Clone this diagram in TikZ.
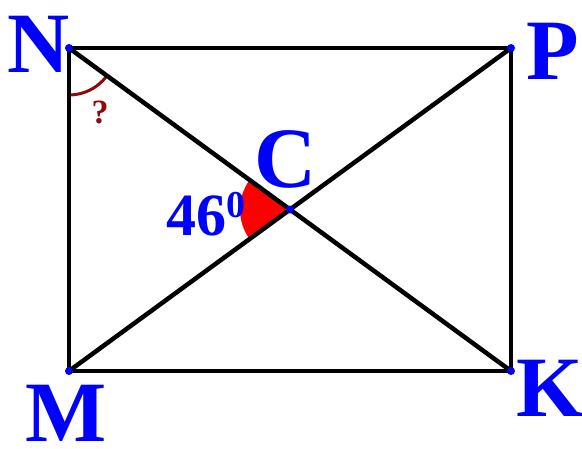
\documentclass[tikz,border=0pt]{standalone}
\usepackage{fontspec}
\setmainfont{Liberation Serif}
\definecolor{lblue}{RGB}{0,0,255}
\definecolor{maroon}{RGB}{140,10,10}
\begin{document}
\begin{tikzpicture}[x=1pt,y=1pt,
  edge/.style={line width=4.5pt,black},
  vdot/.style={circle,fill=lblue,inner sep=0pt,minimum size=8pt},
  biglbl/.style={anchor=base,text=lblue,inner sep=0pt,font=\fontsize{86}{86}\selectfont\bfseries},
]
\fill[white] (0,0) rectangle (582,-448);
\useasboundingbox (0,0) rectangle (582,-448);
\coordinate (N) at (69,-48);
\coordinate (P) at (511,-48);
\coordinate (K) at (511,-371);
\coordinate (M) at (69,-371);
\coordinate (C) at (290,-209.5);
% red angle at C
\fill[red] (C) -- ++(143.84:50) arc (143.84:216.16:50) -- cycle;
% angle mark at N
\draw[maroon,line width=3pt] (N) ++(270:47) arc (270:323.84:47);
% rectangle and diagonals
\draw[edge] (N) -- (P) -- (K) -- (M) -- cycle;
\draw[edge] (N) -- (K);
\draw[edge] (M) -- (P);
% vertices
\foreach \p in {N,P,K,M,C} \node[vdot] at (\p) {};
% labels
\node[biglbl] (lN) at (39,-72) {N};
\node[biglbl] (lP) at (553,-79) {P};
\node[biglbl] (lK) at (550,-416) {K};
\node[biglbl] (lM) at (66,-441) {M};
\node[biglbl] (lC) at (286,-187) {C};
\node[anchor=base,text=lblue,inner sep=0pt,font=\fontsize{60}{60}\selectfont\bfseries] (l46) at (196,-235) {46};
\node[anchor=base,text=lblue,inner sep=0pt,font=\fontsize{38}{38}\selectfont\bfseries] (l0) at (236,-217) {0};
\node[anchor=base,text=maroon,inner sep=0pt,font=\fontsize{34}{34}\selectfont\bfseries] (q) at (100,-123) {?};
\end{tikzpicture}
\end{document}
